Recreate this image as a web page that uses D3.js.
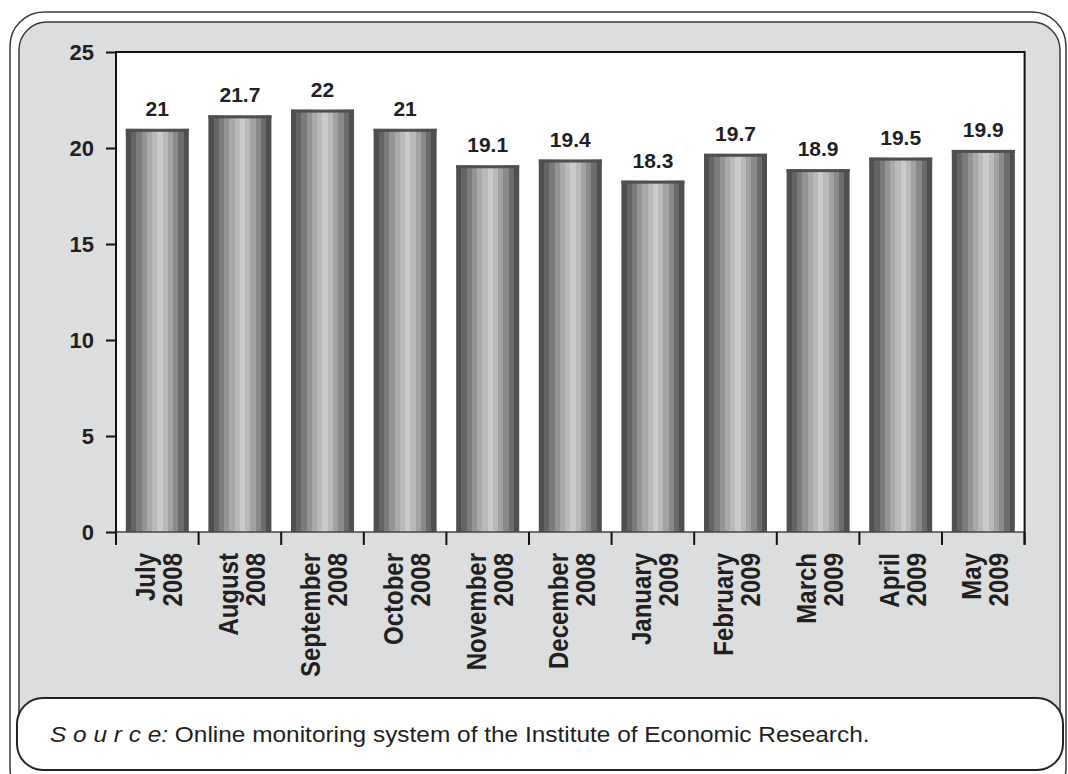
<!DOCTYPE html>
<html>
<head>
<meta charset="utf-8">
<script src="https://cdn.jsdelivr.net/npm/d3@7"></script>
<style>
  html, body { margin: 0; padding: 0; background: #ffffff; }
  svg { display: block; font-family: Arial, "Liberation Sans", sans-serif; }
</style>
</head>
<body>
<svg id="chart" width="1068" height="774"></svg>
<script>
// Monthly values, July 2008 – May 2009
const months = ["July", "August", "September", "October", "November", "December",
                "January", "February", "March", "April", "May"];
const years = ["2008", "2008", "2008", "2008", "2008", "2008",
               "2009", "2009", "2009", "2009", "2009"];
const values = [21, 21.7, 22, 21, 19.1, 19.4, 18.3, 19.7, 18.9, 19.5, 19.9];
const yTicks = [0, 5, 10, 15, 20, 25];
const sourceLabel = "S o u r c e:";
const sourceText = "Online monitoring system of the Institute of Economic Research.";

const categories = months.map((m, i) => m + " " + years[i]);
const ink = "#231f20";

const svg = d3.select("#chart");

// Frame: outer rounded outline and grey panel
svg.append("rect")
  .attr("x", 10).attr("y", 12).attr("width", 1056).attr("height", 790)
  .attr("rx", 34).attr("ry", 34)
  .attr("fill", "#ffffff").attr("stroke", "#3a3a3a").attr("stroke-width", 1.5);
svg.append("rect")
  .attr("x", 19).attr("y", 22).attr("width", 1041).attr("height", 748)
  .attr("rx", 28).attr("ry", 28)
  .attr("fill", "#dcdddf").attr("stroke", "#3a3a3a").attr("stroke-width", 1.5);

// Plot area
const plot = { left: 116, right: 1024.6, top: 52, bottom: 532 };

const x = d3.scaleBand()
  .domain(categories)
  .range([plot.left, plot.right])
  .paddingInner(0.237)
  .paddingOuter(0.1185);

const y = d3.scaleLinear()
  .domain([0, 25])
  .range([plot.bottom, plot.top]);

svg.append("rect")
  .attr("x", plot.left).attr("y", plot.top)
  .attr("width", plot.right - plot.left).attr("height", plot.bottom - plot.top)
  .attr("fill", "#ffffff");

// Striped cylinder-like fill for the bars
const stripes = ["#4f4f4f", "#646464", "#7b7b7b", "#949494", "#a9a9a9", "#bababa",
                 "#cbcbcb", "#b9b9b9", "#a2a2a2", "#8a8a8a", "#6c6c6c", "#4f4f4f"];
const grad = svg.append("defs").append("linearGradient")
  .attr("id", "barStripes")
  .attr("x1", 0).attr("x2", 1).attr("y1", 0).attr("y2", 0);
stripes.forEach((c, i) => {
  grad.append("stop").attr("offset", i / stripes.length).attr("stop-color", c);
  grad.append("stop").attr("offset", (i + 1) / stripes.length).attr("stop-color", c);
});

const bars = svg.append("g").selectAll("g")
  .data(values)
  .join("g");

bars.append("rect")
  .attr("x", (d, i) => x(categories[i]))
  .attr("y", d => y(d))
  .attr("width", x.bandwidth())
  .attr("height", d => y(0) - y(d))
  .attr("fill", "url(#barStripes)");

// dark cap on top of each bar
bars.append("rect")
  .attr("x", (d, i) => x(categories[i]))
  .attr("y", d => y(d))
  .attr("width", x.bandwidth())
  .attr("height", 3)
  .attr("fill", "#4f4f4f");

// Value labels
bars.append("text")
  .attr("x", (d, i) => x(categories[i]) + x.bandwidth() / 2)
  .attr("y", d => y(d) - 13)
  .attr("text-anchor", "middle")
  .attr("font-size", 21)
  .attr("font-weight", "bold")
  .attr("fill", ink)
  .text(d => d);

// Axis frame lines
const frame = svg.append("g").attr("stroke", "#111").attr("stroke-width", 2).attr("fill", "none");
frame.append("line")
  .attr("x1", plot.left).attr("x2", plot.left).attr("y1", plot.top - 1).attr("y2", plot.bottom + 13);
frame.append("line")
  .attr("x1", plot.right).attr("x2", plot.right).attr("y1", plot.top - 1).attr("y2", plot.bottom + 13);
frame.append("line")
  .attr("x1", plot.left).attr("x2", plot.right).attr("y1", plot.top).attr("y2", plot.top);
frame.append("line")
  .attr("x1", plot.left).attr("x2", plot.right).attr("y1", plot.bottom).attr("y2", plot.bottom)
  .attr("stroke", "#444").attr("stroke-width", 1.5);

// Category separators below the axis
const gap = (x.step() - x.bandwidth()) / 2;
frame.selectAll("line.sep")
  .data(categories)
  .join("line")
  .attr("class", "sep")
  .attr("x1", d => x(d) + x.bandwidth() + gap)
  .attr("x2", d => x(d) + x.bandwidth() + gap)
  .attr("y1", plot.bottom)
  .attr("y2", plot.bottom + 13);

// Y axis
const yAxis = svg.append("g")
  .attr("transform", `translate(${plot.left},0)`)
  .call(d3.axisLeft(y).tickValues(yTicks).tickSize(10).tickPadding(12));
yAxis.select(".domain").remove();
yAxis.selectAll(".tick line").attr("stroke", "#111").attr("stroke-width", 2);
yAxis.selectAll(".tick text")
  .attr("font-size", 22)
  .attr("font-weight", "bold")
  .attr("font-family", "Arial, 'Liberation Sans', sans-serif")
  .attr("fill", ink);

// Rotated two-line month labels
const xl = svg.append("g").selectAll("text")
  .data(categories)
  .join("text")
  .attr("transform", d => `translate(${x(d) + x.bandwidth() / 2 + 1},553) rotate(-90) scale(1,1.12)`)
  .attr("text-anchor", "end")
  .attr("font-size", 24)
  .attr("font-weight", "bold")
  .attr("fill", ink);
xl.append("tspan").attr("x", 0).attr("y", -2.7).text((d, i) => months[i]);
xl.append("tspan").attr("x", 0).attr("y", 21.4).text((d, i) => years[i]);

// Source box
svg.append("rect")
  .attr("x", 17).attr("y", 698).attr("width", 1046).attr("height", 72)
  .attr("rx", 26).attr("ry", 26)
  .attr("fill", "#ffffff").attr("stroke", "#222").attr("stroke-width", 2);

const src = svg.append("text")
  .attr("transform", "translate(50,742) scale(1.11,1)")
  .attr("font-size", 22)
  .attr("fill", ink);
src.append("tspan").attr("font-style", "italic").text(sourceLabel);
src.append("tspan").text(" " + sourceText);
</script>
</body>
</html>
